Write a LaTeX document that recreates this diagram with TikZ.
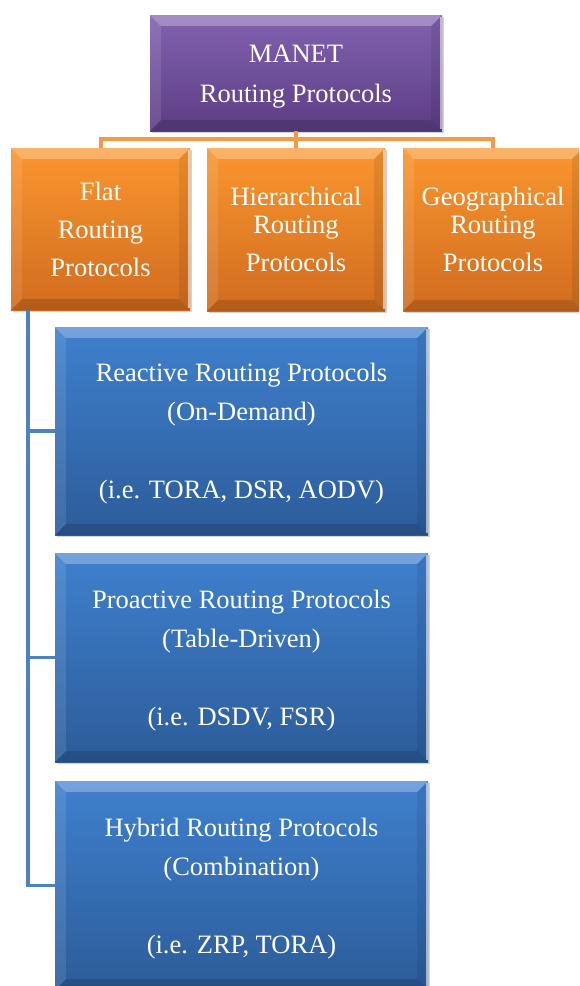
\documentclass[tikz,border=0pt]{standalone}
\usepackage{fontspec}
\setmainfont{Liberation Serif}
\usetikzlibrary{calc,shadows}
\definecolor{purpT}{HTML}{8262B0}
\definecolor{purpB}{HTML}{5C3D84}
\definecolor{oraT}{HTML}{FA962E}
\definecolor{oraB}{HTML}{D06C1F}
\definecolor{bluT}{HTML}{3F80CE}
\definecolor{bluB}{HTML}{2C5C99}
\definecolor{oraLine}{HTML}{F39A45}
\definecolor{bluLine}{HTML}{4F81BD}
\newcommand\bevelbox[1]{%
  \fill[white,opacity=0.28] (#1.north west) -- (#1.north east) -- ($(#1.north east)+(-11,11)$) -- ($(#1.north west)+(11,11)$) -- cycle;
  \fill[white,opacity=0.10] (#1.north west) -- ($(#1.north west)+(11,11)$) -- ($(#1.south west)+(11,-11)$) -- (#1.south west) -- cycle;
  \fill[black,opacity=0.08] (#1.north east) -- ($(#1.north east)+(-11,11)$) -- ($(#1.south east)+(-11,-11)$) -- (#1.south east) -- cycle;
  \fill[black,opacity=0.14] (#1.south west) -- ($(#1.south west)+(11,-11)$) -- ($(#1.south east)+(-11,-11)$) -- (#1.south east) -- cycle;
  \draw[white,opacity=0.55,line width=1.5pt] ($(#1.north east)+(-1,2)$) -- ($(#1.south east)+(-1,-2)$);
}
\newcommand\topstrut{\rule{0pt}{24pt}}
\tikzset{
  x=1pt, y=-1pt,
  boxbase/.style={rectangle, inner sep=0pt, text=white, align=center,
    font=\fontsize{26.5}{28}\selectfont,
    drop shadow={shadow xshift=2pt, shadow yshift=-2pt, opacity=0.35}},
  purplebox/.style={boxbase, top color=purpT, bottom color=purpB},
  orangebox/.style={boxbase, top color=oraT, bottom color=oraB},
  bluebox/.style={boxbase, top color=bluT, bottom color=bluB},
  oraconn/.style={draw=oraLine, line width=4pt},
  bluconn/.style={draw=bluLine, line width=3.5pt},
}
\begin{document}
\begin{tikzpicture}
\useasboundingbox (0,0) rectangle (579,986);
\clip (0,0) rectangle (579,986);
% top
\node[purplebox, minimum width=292pt, minimum height=116pt] (manet) at (296,73) {\topstrut MANET\\[12pt]Routing Protocols};
% second level
\node[orangebox, minimum width=179pt, minimum height=162pt] (flat) at (100.5,229) {Flat\\[10pt]Routing\\[10pt]Protocols};
\node[orangebox, minimum width=178pt, minimum height=163pt] (hier) at (296,229.5) {Hierarchical\\Routing\\[10pt]Protocols};
\node[orangebox, minimum width=180pt, minimum height=163pt] (geo) at (493,229.5) {Geographical\\Routing\\[10pt]Protocols};
% third level
\node[bluebox, minimum width=373pt, minimum height=208pt] (react) at (241.5,431) {\topstrut Reactive Routing Protocols\\[11pt](On-Demand)\\[50pt](i.e. TORA, DSR, AODV)};
\node[bluebox, minimum width=373pt, minimum height=209pt] (proact) at (241.5,657.5) {\topstrut Proactive Routing Protocols\\[11pt](Table-Driven)\\[50pt](i.e. DSDV, FSR)};
\node[bluebox, minimum width=373pt, minimum height=209pt] (hybrid) at (241.5,885.5) {\topstrut Hybrid Routing Protocols\\[11pt](Combination)\\[50pt](i.e. ZRP, TORA)};
% bevels
\foreach \b in {manet,flat,hier,geo,react,proact,hybrid} {\bevelbox{\b}}
% connectors
\coordinate (bar) at ($(manet.south)+(0,8)$);
\draw[oraconn] (manet.south) -- (bar);
\draw[oraconn] (bar) -| (flat.north);
\draw[oraconn] (bar) -| (geo.north);
\draw[oraconn] (bar) -- (hier.north);
\coordinate (trunk) at ($(flat.south west)+(17,0)$);
\draw[bluconn] (trunk) |- (react.west);
\draw[bluconn] (trunk) |- (proact.west);
\draw[bluconn] (trunk) |- (hybrid.west);
\end{tikzpicture}
\end{document}
